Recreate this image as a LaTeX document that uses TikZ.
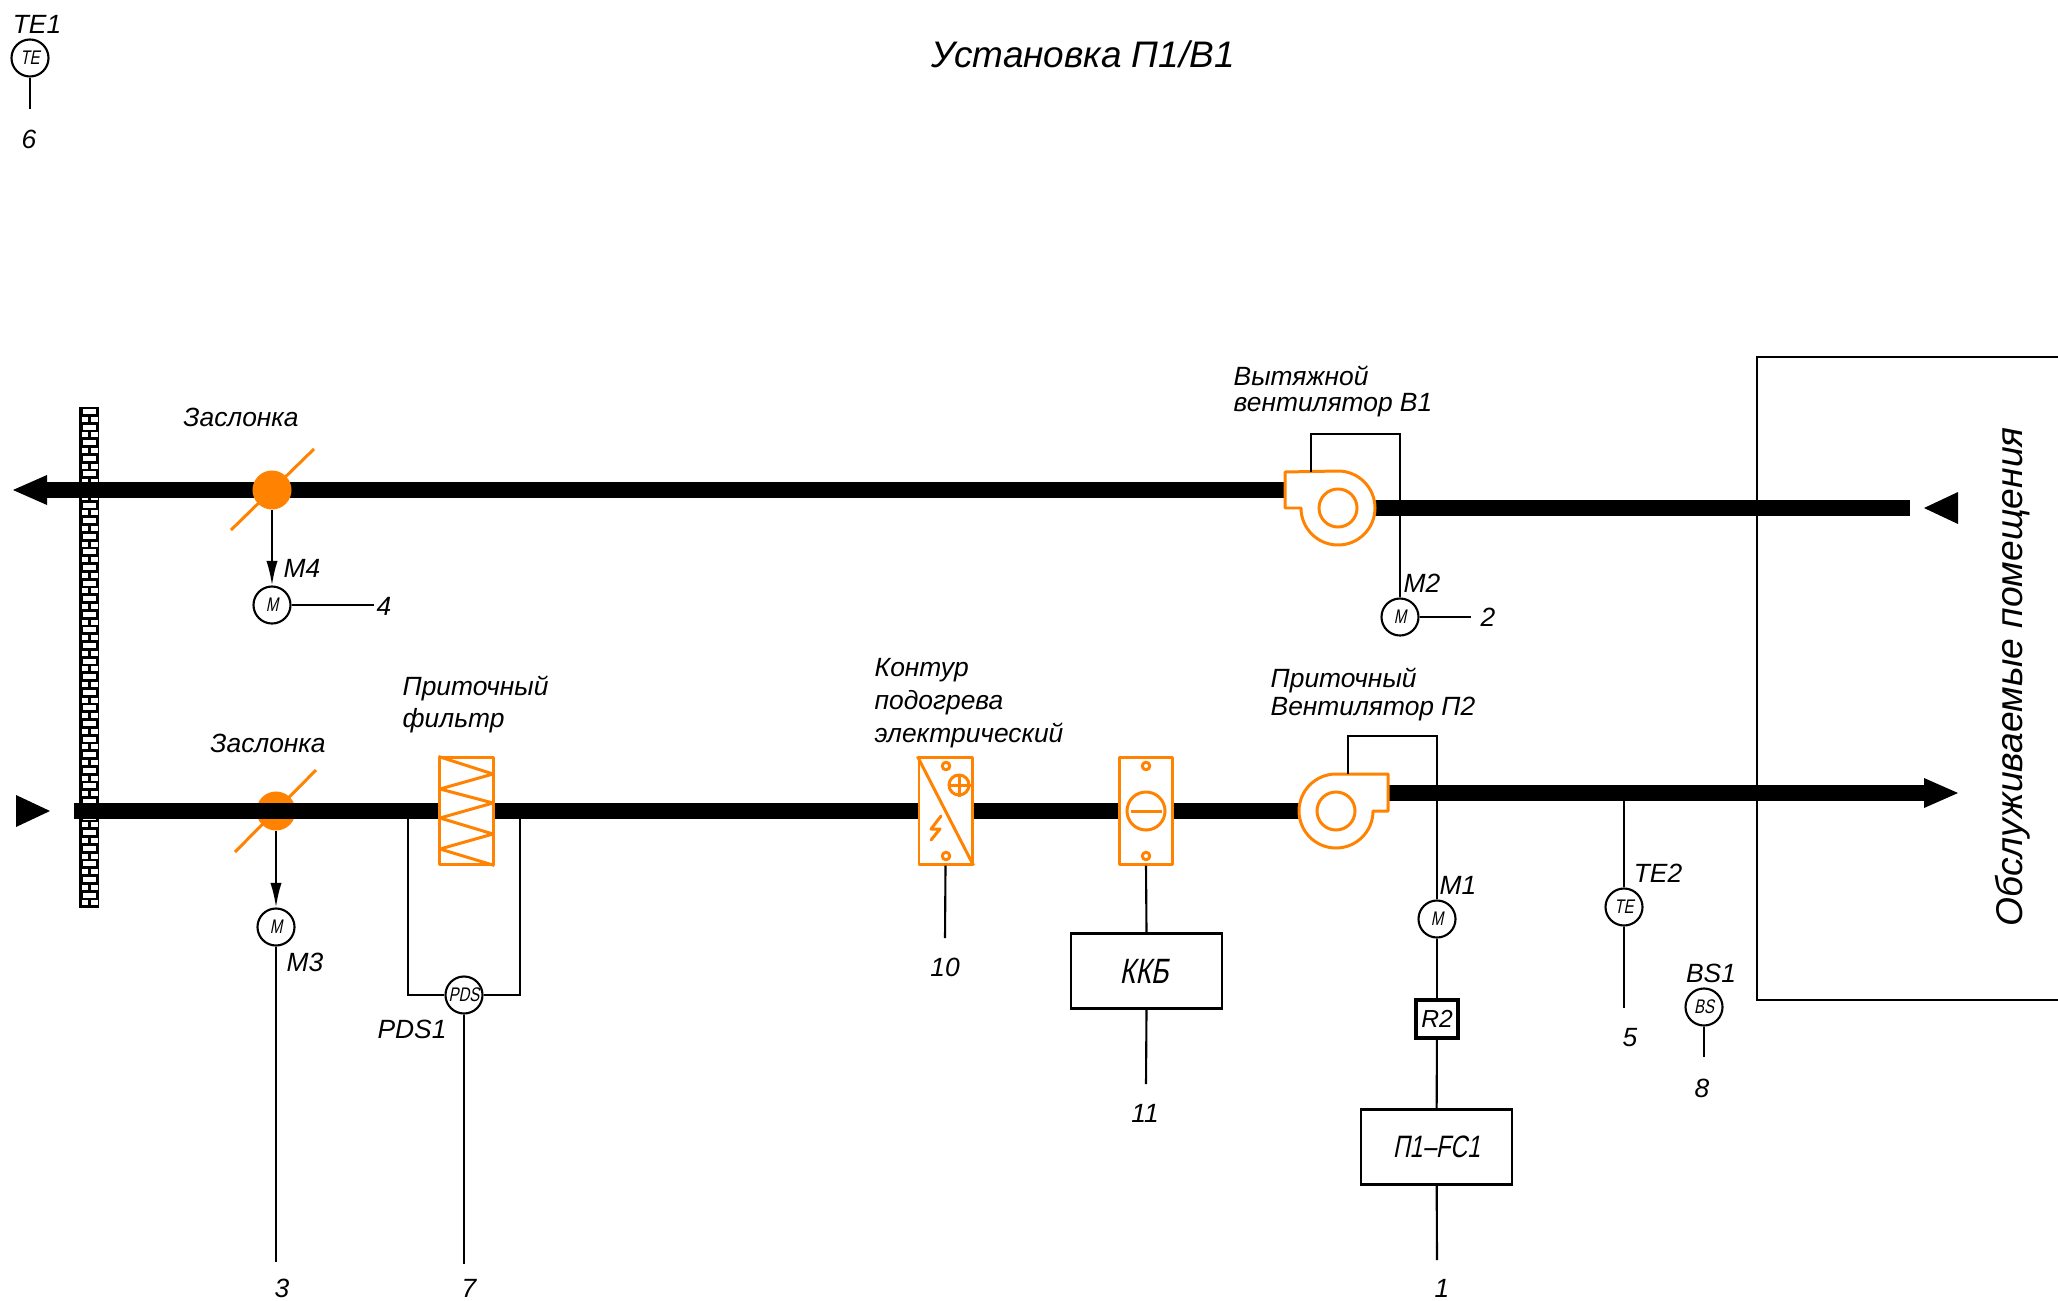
\documentclass[tikz,border=0pt]{standalone}
\usetikzlibrary{arrows.meta}
\usepackage{fontspec}
\setmainfont{Liberation Sans}
\newfontfamily\cadfont[FakeStretch=0.76,FakeSlant=0.2]{Liberation Sans}
\definecolor{unitorange}{RGB}{255,130,0}
\tikzset{
    lbl/.style={font=\fontsize{7.5pt}{9pt}\selectfont\itshape,inner sep=0pt,align=left},
    duct/.style={line width=4.4pt},
    wire/.style={line width=0.6pt},
    unitline/.style={line width=0.85pt,unitorange,line join=round},
    sensor/.style={circle,draw,wire,fill=white,minimum size=0.37cm,inner sep=0pt,font=\fontsize{5.6pt}{6pt}\cadfont},
    cabinet/.style={rectangle,draw,wire,fill=white,minimum width=1.51cm,minimum height=0.75cm,inner sep=0pt,font=\fontsize{10pt}{11pt}\cadfont},
    unitbox/.style={rectangle,draw,unitline,fill=white,minimum width=0.53cm,minimum height=1.06cm,inner sep=0pt},
    dot/.style={circle,draw,unitline,fill=white,minimum size=0.075cm,inner sep=0pt},
    flowtip/.style={fill=black}
}
\begin{document}
\begin{tikzpicture}[x=0.01cm,y=-0.01cm]
    \useasboundingbox (0,0) rectangle (2058,1300);
    %% title
    \node[lbl,font=\fontsize{10.5pt}{12pt}\selectfont\itshape] (title) at (1083,54) {Установка П1/В1};
    %% room
    \draw[wire] (2058,357) -- (1757,357) -- (1757,1000) -- (2058,1000);
    \node[lbl,font=\fontsize{10.6pt}{12pt}\selectfont\itshape,rotate=90] (room) at (2013,677) {Обслуживаемые помещения};
    %% wall
    \fill[black] (79,407) rectangle (99,908);
    \foreach \r in {0,...,63}{
        \pgfmathsetmacro{\yy}{409+\r*7.8}
        \ifodd\r
            \fill[white] (81.5,\yy) rectangle (88,\yy+5);
            \fill[white] (90.5,\yy) rectangle (97.5,\yy+5);
        \else
            \fill[white] (83,\yy) rectangle (96,\yy+5);
        \fi
    }
    %% exhaust line
    \coordinate (exhA) at (47,490);
    \coordinate (exhB) at (1290,490);
    \coordinate (exhC) at (1370,508);
    \coordinate (exhD) at (1910,508);
    \draw[duct] (exhA) -- (exhB);
    \draw[duct] (exhC) -- (exhD);
    \fill[flowtip] (13,490) -- (47,475) -- (47,505) -- cycle;
    \fill[flowtip] (1924,508) -- (1958,492) -- (1958,524) -- cycle;
    %% supply line
    \coordinate (supA) at (74,811);
    \coordinate (supB) at (1300,811);
    \coordinate (supC) at (1385,793);
    \coordinate (supD) at (1926,793);
    \fill[flowtip] (16,795) -- (50,811) -- (16,827) -- cycle;
    \fill[flowtip] (1958,793) -- (1924,778) -- (1924,808) -- cycle;
    %% dampers
    \draw[unitline] (231,530) -- (314,449);
    \node[circle,fill=unitorange,minimum size=0.39cm,inner sep=0pt] (damperT) at (272,490) {};
    \draw[unitline] (235,852) -- (316,770);
    \node[circle,fill=unitorange,minimum size=0.39cm,inner sep=0pt] (damperB) at (276,811) {};
    \draw[duct] (supA) -- (supB);
    \draw[duct] (supC) -- (supD);
    \node[lbl] (labT) at (241,417) {Заслонка};
    \node[lbl] (labB) at (268,743) {Заслонка};
    %% damper motors
    \node[sensor] (M4) at (272,605) {M};
    \node[sensor] (M3) at (276,927) {M};
    \draw[wire,-{Latex[length=7pt,width=3.2pt]}] (damperT) -- (M4);
    \draw[wire,-{Latex[length=7pt,width=3.2pt]}] (damperB) -- (M3);
    \coordinate (end4) at (374,605);
    \coordinate (end3) at (276,1262);
    \draw[wire] (M4) -- (end4);
    \draw[wire] (M3) -- (end3);
    \node[lbl] (numF) at (384,606) {4};
    \node[lbl] (numT) at (282,1288) {3};
    \node[lbl] (labM4) at (302,568) {M4};
    \node[lbl] (labM3) at (305,962) {M3};
    %% filter
    \node[unitbox] (filter) at (466.5,811) {};
    \draw[unitline] (filter.north west) -- (493,774) -- (440,789) -- (493,803) -- (440,818) -- (493,834) -- (440,849) -- (filter.south east);
    \node[lbl,anchor=west] (labFilter) at (402,688) {Приточный};
    \node[lbl,anchor=west] (labFilter2) at (402,721) {фильтр};
    \node[sensor] (PDS) at (464,995) {PDS};
    \coordinate (tapL) at (408,811);
    \coordinate (tapR) at (520,811);
    \coordinate (end7) at (464,1264);
    \draw[wire] (tapL) |- (PDS);
    \draw[wire] (tapR) |- (PDS);
    \draw[wire] (PDS) -- (end7);
    \node[lbl] (labPDS) at (412,1029) {PDS1};
    \node[lbl] (numS) at (469,1288) {7};
    %% heater
    \node[unitbox] (heater) at (945.5,811) {};
    \draw[unitline] (heater.north west) -- (heater.south east);
    \node[dot] (heatA) at (946,766) {};
    \node[dot] (heatB) at (946,856) {};
    \node[circle,draw,unitline,minimum size=0.2cm,inner sep=0pt] (heatC) at (959,785) {};
    \draw[unitline] (heatC.west) -- (heatC.east);
    \draw[unitline] (heatC.north) -- (heatC.south);
    \draw[unitline,line cap=round,line join=round] (941,816) -- (931,829) -- (940,829) -- (931,840);
    \coordinate (end10) at (945,938);
    \draw[wire] (heater.south) -- (end10);
    \node[lbl,anchor=west] (labHeat) at (874,670) {Контур};
    \node[lbl,anchor=west] (labHeat2) at (874,703) {подогрева};
    \node[lbl,anchor=west] (labHeat3) at (874,735) {электрический};
    \node[lbl] (numTen) at (945,967) {10};
    %% cooler
    \node[unitbox] (cooler) at (1146,811) {};
    \node[dot] (coolA) at (1146,766) {};
    \node[dot] (coolB) at (1146,856) {};
    \node[circle,draw,unitline,minimum size=0.38cm,inner sep=0pt] (coolC) at (1146,811) {};
    \draw[unitline] (1131,811) -- (1162,811);
    \node[cabinet] (KKB) at (1146.5,971) {ККБ\kern1.4pt};
    \coordinate (end11) at (1146,1084);
    \draw[wire] (cooler.south) -- (KKB.north);
    \draw[wire] (KKB.south) -- (end11);
    \node[lbl] (numEl) at (1145,1113) {11};
    %% supply fan
    \draw[unitline,fill=white] (1388,774) -- (1388,811) -- (1373,811) arc[start angle=0,end angle=270,radius=37] -- cycle;
    \node[circle,draw,unitline,minimum size=0.38cm,inner sep=0pt] (fanB) at (1336,811) {};
    \node[lbl,anchor=west] (labFanB) at (1270,680) {Приточный};
    \node[lbl,anchor=west] (labFanB2) at (1270,709) {Вентилятор П2};
    \coordinate (fanBtop) at (1348,774);
    \node[sensor] (M1) at (1437,919) {M};
    \node[rectangle,draw,line width=1.2pt,fill=white,minimum width=0.42cm,minimum height=0.38cm,inner sep=0pt,font=\fontsize{7pt}{8pt}\selectfont\itshape] (R2) at (1437,1019) {R2};
    \node[cabinet,font=\fontsize{8.8pt}{11pt}\cadfont] (FC1) at (1436.5,1147) {П1–FC1};
    \coordinate (end1) at (1437,1260);
    \draw[wire] (fanBtop) -- (1348,736) -| (M1);
    \draw[wire] (M1) -- (R2);
    \draw[wire] (R2) -- (FC1);
    \draw[wire] (FC1) -- (end1);
    \node[lbl] (labM1) at (1458,885) {M1};
    \node[lbl] (numA) at (1442,1288) {1};
    %% exhaust fan
    \draw[unitline,fill=white] (1285,472) -- (1285,508) -- (1301,508) arc[start angle=180,end angle=-90,radius=37] -- cycle;
    \node[circle,draw,unitline,minimum size=0.38cm,inner sep=0pt] (fanT) at (1338,508) {};
    \node[lbl,anchor=west] (labFanT) at (1233,376) {Вытяжной};
    \node[lbl,anchor=west] (labFanT2) at (1233,405) {вентилятор В1};
    \coordinate (fanTtop) at (1311,472);
    \node[sensor] (M2) at (1400,617) {M};
    \coordinate (end2) at (1471,617);
    \draw[wire] (fanTtop) -- (1311,434) -| (M2);
    \draw[wire] (M2) -- (end2);
    \node[lbl] (labM2) at (1422,583) {M2};
    \node[lbl] (numB) at (1488,617) {2};
    %% temperature and air sensors
    \node[sensor] (TE2) at (1624,907) {TE};
    \coordinate (tapTE) at (1624,793);
    \coordinate (end5) at (1624,1008);
    \draw[wire] (tapTE) -- (TE2);
    \draw[wire] (TE2) -- (end5);
    \node[lbl] (labTE2) at (1658,873) {TE2};
    \node[lbl] (numE) at (1630,1038) {5};
    \node[sensor] (BS) at (1704,1007) {BS};
    \coordinate (end8) at (1704,1057);
    \draw[wire] (BS) -- (end8);
    \node[lbl] (labBS) at (1711,973) {BS1};
    \node[lbl] (numH) at (1702,1088) {8};
    \node[sensor] (TE1) at (30,58) {TE};
    \coordinate (end6) at (30,109);
    \draw[wire] (TE1) -- (end6);
    \node[lbl] (labTE1) at (37,24) {TE1};
    \node[lbl] (numG) at (29,139) {6};
\end{tikzpicture}
\end{document}
